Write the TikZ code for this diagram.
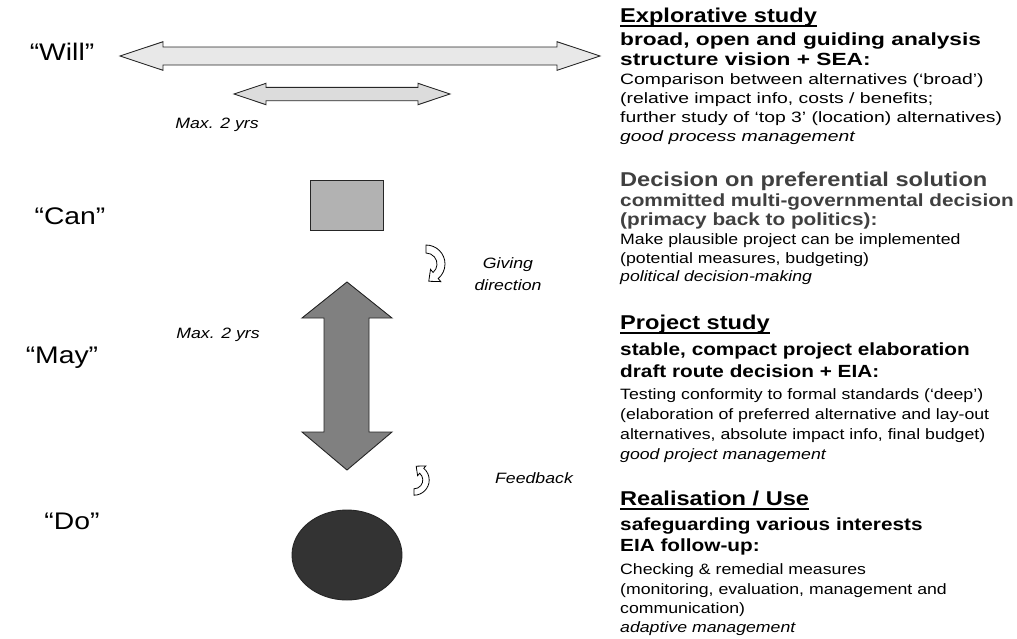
\documentclass[tikz,border=0pt]{standalone}
\usepackage{fontspec}
\setmainfont{Liberation Sans}[FakeStretch=1.18]
\newfontfamily\widefont{Liberation Sans}[FakeStretch=1.29]
\usetikzlibrary{calc}
\definecolor{bigfill}{HTML}{E8E8E8}
\definecolor{smallfill}{HTML}{DCDCDC}
\definecolor{rectfill}{HTML}{B2B2B2}
\definecolor{vfill}{HTML}{808080}
\definecolor{ellfill}{HTML}{333333}
\definecolor{darktext}{HTML}{404040}
\begin{document}
\begin{tikzpicture}[x=1pt,y=-1pt,
  shapeline/.style={draw=black!85, line width=0.9pt, line join=miter},
  curlarrow/.style={draw=black, line width=0.8pt, fill=white, line join=miter},
  lbl/.style={inner sep=0pt, font=\fontsize{24}{28}\selectfont},
  side/.style={inner sep=0pt, align=center, font=\fontsize{15}{22}\selectfont\itshape},
  txt/.style={anchor=west, inner sep=0pt, text height=0.72em, text depth=0.21em},
  hdr/.style={txt, font=\fontsize{20}{24}\selectfont\bfseries},
  sub/.style={txt, font=\fontsize{17.6}{20}\selectfont\bfseries},
  bodytxt/.style={txt, font=\fontsize{15}{17}\selectfont},
  note/.style={txt, font=\fontsize{15}{17}\selectfont\itshape},
  wsub/.style={txt, font=\widefont\fontsize{17.6}{20}\selectfont\bfseries},
  wbody/.style={txt, font=\widefont\fontsize{15}{17}\selectfont},
  wnote/.style={txt, font=\widefont\fontsize{15}{17}\selectfont\itshape},
  uline/.style={line width=1.4pt}
]
\fill[white] (0,0) rectangle (1017,638);
\useasboundingbox (0,0) rectangle (1017,638);

% left labels
\node[lbl] (will) at (62,52) {“Will”};
\node[lbl] (can) at (70,216) {“Can”};
\node[lbl] (may) at (62,358) {“May”};
\node[lbl] (do) at (72,521) {“Do”};

% horizontal double arrows
\draw[shapeline, fill=bigfill] (120,56) -- (163,41.7) -- (163,47) -- (557,47) -- (557,41.7)
  -- (600,56) -- (557,70.3) -- (557,65) -- (163,65) -- (163,70.3) -- cycle;
\draw[shapeline, fill=smallfill] (234,94) -- (266,83.3) -- (266,87.3) -- (418,87.3) -- (418,83.3)
  -- (450,94) -- (418,104.7) -- (418,100.7) -- (266,100.7) -- (266,104.7) -- cycle;

% Max 2 yrs
\node[side] (max1) at (217,125) {Max. 2 yrs};
\node[side] (max2) at (218,335) {Max. 2 yrs};

% rectangle
\draw[shapeline, fill=rectfill] (310,180) rectangle (383,230);

% vertical double arrow
\draw[shapeline, fill=vfill] (347,282) -- (392,318) -- (369,318) -- (369,432) -- (392,432)
  -- (347,470) -- (302,432) -- (324,432) -- (324,318) -- (302,318) -- cycle;

% ellipse
\draw[shapeline, fill=ellfill] (347,555) ellipse [x radius=55, y radius=45];

% curved arrow: giving direction
\begin{scope}[shift={(426,264)}, yscale=-1]
  \draw[curlarrow] (90:11) -- (90:19) arc[start angle=90, end angle=-50, radius=19]
    -- (-50:23) -- ($(-50:15)+(-140:9)$) -- (-50:7) -- (-50:11)
    arc[start angle=-50, end angle=90, radius=11] -- cycle;
\end{scope}
% curved arrow: feedback
\begin{scope}[shift={(414,480)}, scale=0.8]
  \draw[curlarrow] (90:11) -- (90:19) arc[start angle=90, end angle=-50, radius=19]
    -- (-50:23) -- ($(-50:15)+(-140:9)$) -- (-50:7) -- (-50:11)
    arc[start angle=-50, end angle=90, radius=11] -- cycle;
\end{scope}

\node[side] (giving) at (508,274) {Giving\\direction};
\node[side] (feedback) at (534,478) {Feedback};

% block 1
\node[hdr] (h1) at (620,20) {Explorative study};
\draw[uline] ([yshift=-1pt]h1.south west) -- ([yshift=-1pt]h1.south east);
\node[wsub] (s1a) at (620,43) {broad, open and guiding analysis};
\node[wsub] (s1b) at (620,63) {structure vision + SEA:};
\node[wbody] (b1a) at (620,82) {Comparison between alternatives (‘broad’)};
\node[wbody] (b1b) at (620,101) {(relative impact info, costs / benefits;};
\node[wbody] (b1c) at (620,120) {further study of ‘top 3’ (location) alternatives)};
\node[wnote] (n1) at (620,139) {good process management};

% block 2
\node[hdr, text=darktext] (h2) at (620,184) {Decision on preferential solution};
\node[sub, text=darktext] (s2a) at (620,203.5) {committed multi-governmental decision};
\node[sub, text=darktext] (s2b) at (620,223) {(primacy back to politics):};
\node[bodytxt] (b2a) at (620,242) {Make plausible project can be implemented};
\node[bodytxt] (b2b) at (620,261) {(potential measures, budgeting)};
\node[note] (n2) at (620,279) {political decision-making};

% block 3
\node[hdr] (h3) at (620,327) {Project study};
\draw[uline] ([yshift=-1pt]h3.south west) -- ([yshift=-1pt]h3.south east);
\node[sub] (s3a) at (620,353) {stable, compact project elaboration};
\node[sub] (s3b) at (620,375) {draft route decision + EIA:};
\node[bodytxt] (b3a) at (620,397) {Testing conformity to formal standards (‘deep’)};
\node[bodytxt] (b3b) at (620,417) {(elaboration of preferred alternative and lay-out};
\node[bodytxt] (b3c) at (620,437) {alternatives, absolute impact info, final budget)};
\node[note] (n3) at (620,457) {good project management};

% block 4
\node[hdr] (h4) at (620,503) {Realisation / Use};
\draw[uline] ([yshift=-1pt]h4.south west) -- ([yshift=-1pt]h4.south east);
\node[sub] (s4a) at (620,528) {safeguarding various interests};
\node[sub] (s4b) at (620,549) {EIA follow-up:};
\node[bodytxt] (b4a) at (620,572) {Checking \& remedial measures};
\node[bodytxt] (b4b) at (620,592) {(monitoring, evaluation, management and};
\node[bodytxt] (b4c) at (620,611) {communication)};
\node[note] (n4) at (620,630) {adaptive management};
\end{tikzpicture}
\end{document}
